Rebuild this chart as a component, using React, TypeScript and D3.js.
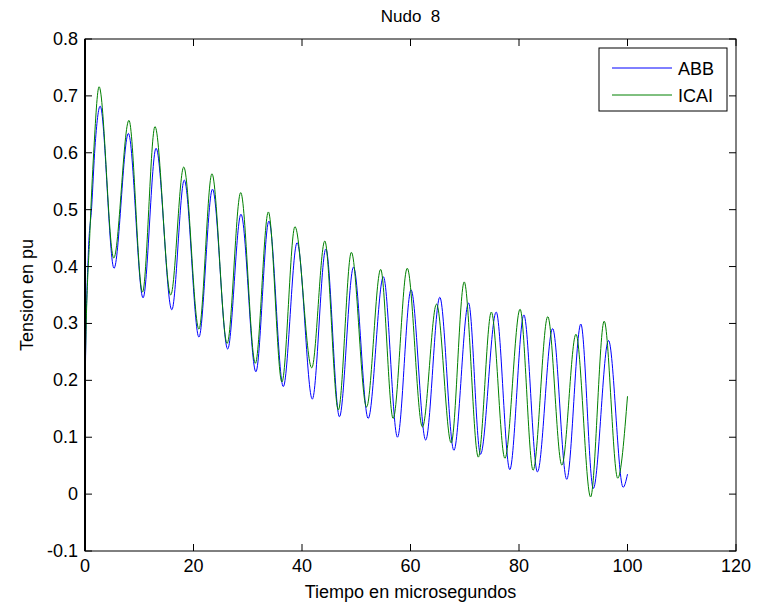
import React from "react";
import * as d3 from "d3";

// ABB series (smooth): time (µs) and tension (pu) read at key points
const abbTime = [0, 0.05, 0.6, 1.23, 1.84, 2.8, 5.35, 8.0, 10.7, 13.1, 16.0, 18.3, 21.0, 23.5, 26.3, 28.75, 31.5, 33.9, 36.55, 39.1, 41.9, 44.4, 46.9, 49.5, 52.2, 55.0, 57.6, 60.1, 62.8, 65.4, 68.0, 70.7, 72.9, 75.8, 78.3, 80.9, 83.4, 86.2, 88.8, 91.4, 93.7, 96.5, 99.2, 100];
const abbValue = [0, 0.2, 0.42, 0.505, 0.61, 0.682, 0.397, 0.634, 0.345, 0.608, 0.324, 0.552, 0.276, 0.536, 0.255, 0.492, 0.215, 0.48, 0.189, 0.442, 0.167, 0.431, 0.136, 0.399, 0.133, 0.382, 0.1, 0.359, 0.095, 0.346, 0.077, 0.336, 0.07, 0.32, 0.043, 0.315, 0.039, 0.291, 0.026, 0.299, 0.01, 0.27, 0.012, 0.035];

// ICAI series (stepped in the original)
const icaiTime = [0, 0.05, 0.92, 1.6, 2.6, 5.3, 8.1, 10.6, 12.9, 15.8, 18.2, 21.0, 23.4, 26.2, 28.7, 31.4, 33.8, 36.3, 38.7, 41.8, 44.2, 46.7, 49.1, 51.9, 54.5, 56.8, 59.4, 62.2, 64.8, 67.5, 69.9, 72.5, 74.9, 77.4, 80.2, 82.6, 85.3, 87.9, 90.5, 93.2, 95.7, 98.2, 100];
const icaiValue = [0, 0.22, 0.464, 0.6, 0.716, 0.415, 0.657, 0.355, 0.646, 0.35, 0.575, 0.29, 0.563, 0.265, 0.53, 0.23, 0.496, 0.197, 0.47, 0.222, 0.445, 0.148, 0.425, 0.153, 0.395, 0.133, 0.397, 0.118, 0.334, 0.09, 0.373, 0.065, 0.32, 0.063, 0.325, 0.042, 0.312, 0.051, 0.281, -0.005, 0.304, 0.028, 0.172];

const xTicks = [0, 20, 40, 60, 80, 100, 120];
const yTicks = [-0.1, 0, 0.1, 0.2, 0.3, 0.4, 0.5, 0.6, 0.7, 0.8];
const seriesNames = ["ABB", "ICAI"];
const seriesColors = ["#0000ff", "#008000"];

const W = 757;
const H = 608;
const L = 85, R = 736, T = 39, B = 551;
const FONT = "'Liberation Sans', Arial, Helvetica, sans-serif";
const FS = 18;

export default function App() {
  const x = d3.scaleLinear().domain([0, 120]).range([L, R]);
  const y = d3.scaleLinear().domain([-0.1, 0.8]).range([B, T]);

  const line = d3
    .line<[number, number]>()
    .x((d) => x(d[0]))
    .y((d) => y(d[1]))
    .curve(d3.curveMonotoneX);

  const abbData: [number, number][] = abbTime.map((t, i) => [t, abbValue[i]]);
  const icaiData: [number, number][] = icaiTime.map((t, i) => [t, icaiValue[i]]);
  const series = [abbData, icaiData];

  const tickLen = 7;
  const fmtY = (v: number) =>
    Math.abs(v) < 1e-9 ? "0" : (v < 0 ? "-" : "") + Math.abs(v).toFixed(1);

  const legX = 599, legY = 48, legW = 128, legH = 63;

  return (
    <svg
      width={W}
      height={H}
      style={{ position: "absolute", left: 0, top: 0, background: "#fff" }}
      fontFamily={FONT}
    >
      <rect x={0} y={0} width={W} height={H} fill="#fff" />
      <defs>
        <clipPath id="plotclip">
          <rect x={L} y={T} width={R - L} height={B - T} />
        </clipPath>
      </defs>

      {/* data lines */}
      <g clipPath="url(#plotclip)">
        {series.map((d, i) => (
          <path key={i} d={line(d) || ""} fill="none" stroke={seriesColors[i]} strokeWidth={1} />
        ))}
      </g>

      {/* axes box */}
      <rect x={L} y={T} width={R - L} height={B - T} fill="none" stroke="#000" strokeWidth={1} />
      <line x1={L} y1={T} x2={L} y2={B} stroke="#000" strokeWidth={2} />

      {/* x ticks */}
      {xTicks.map((t) => (
        <g key={"x" + t}>
          <line x1={x(t)} x2={x(t)} y1={B} y2={B - tickLen} stroke="#000" />
          <line x1={x(t)} x2={x(t)} y1={T} y2={T + tickLen} stroke="#000" />
          <text x={x(t)} y={B + 21} fontSize={FS} textAnchor="middle" fill="#000">
            {t}
          </text>
        </g>
      ))}

      {/* y ticks */}
      {yTicks.map((v) => (
        <g key={"y" + v}>
          <line x1={L} x2={L + tickLen} y1={y(v)} y2={y(v)} stroke="#000" />
          <line x1={R} x2={R - tickLen} y1={y(v)} y2={y(v)} stroke="#000" />
          <text x={78} y={y(v) + 6} fontSize={FS} textAnchor="end" fill="#000">
            {fmtY(v)}
          </text>
        </g>
      ))}

      {/* title and labels */}
      <text x={(L + R) / 2} y={22} fontSize={FS - 1} textAnchor="middle" fill="#000" style={{ whiteSpace: "pre" }}>
        {"Nudo  8"}
      </text>
      <text x={(L + R) / 2} y={598} fontSize={FS} textAnchor="middle" fill="#000">
        Tiempo en microsegundos
      </text>
      <text
        transform={`translate(33, ${(T + B) / 2}) rotate(-90)`}
        fontSize={FS}
        textAnchor="middle"
        fill="#000"
      >
        Tension en pu
      </text>

      {/* legend */}
      <rect x={legX} y={legY} width={legW} height={legH} fill="#fff" stroke="#000" strokeWidth={1} />
      {seriesNames.map((n, i) => (
        <g key={n}>
          <line x1={612} x2={672} y1={68 + i * 27} y2={68 + i * 27} stroke={seriesColors[i]} strokeWidth={1} />
          <text x={678} y={68 + i * 27 + 6.5} fontSize={FS} fill="#000">
            {n}
          </text>
        </g>
      ))}
    </svg>
  );
}
